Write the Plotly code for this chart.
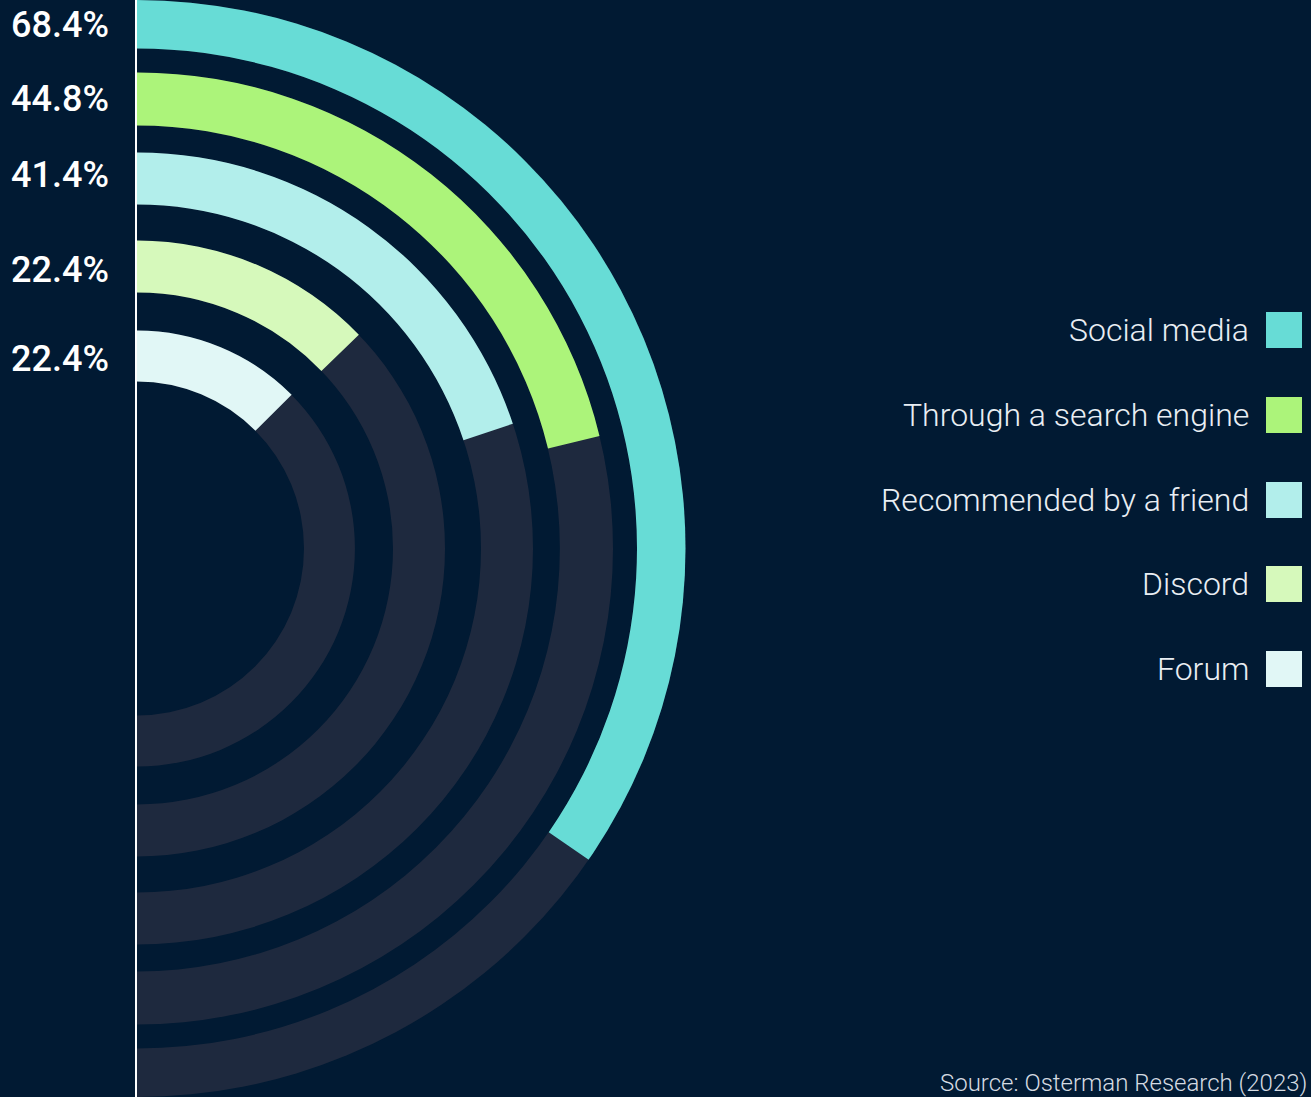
import plotly.graph_objects as go

# ---- data ----
categories = ["Social media", "Through a search engine", "Recommended by a friend", "Discord", "Forum"]
value_labels = ["68.4%", "44.8%", "41.4%", "22.4%", "22.4%"]
# extent of each coloured arc as drawn, in % of the half ring
arc_share = [69.2, 42.4, 39.8, 25.6, 25.1]
colors = ["#67dcd6", "#acf47a", "#b2eeeb", "#d6f9bb", "#e1f7f6"]
source_text = "Source: Osterman Research (2023)"

# ---- layout constants ----
W, H = 1311, 1097
BG = "#011a33"
TRACK = "#1e293e"
ring_inner = [500, 423, 344, 256, 167]
ring_outer = [552, 476, 396, 308, 218]
cx = 137
R = H / 2
label_y = [25, 99, 175, 270, 359]
leg_y = [330, 415, 500, 584, 669]

fig = go.Figure()
for i, cat in enumerate(categories):
    th = arc_share[i] * 180 / 100
    # grey track
    fig.add_trace(go.Barpolar(
        r=[ring_outer[i] - ring_inner[i]], base=[ring_inner[i]],
        theta=[90], width=[180],
        marker=dict(color=TRACK, line=dict(width=0)),
        showlegend=False, hoverinfo="skip"))
    # value arc
    fig.add_trace(go.Barpolar(
        r=[ring_outer[i] - ring_inner[i]], base=[ring_inner[i]],
        theta=[th / 2], width=[th],
        marker=dict(color=colors[i], line=dict(width=0)),
        name=cat, showlegend=False,
        hovertemplate=cat + ": " + value_labels[i] + "<extra></extra>"))

fig.update_layout(
    width=W, height=H, autosize=False,
    margin=dict(l=0, r=0, t=0, b=0, pad=0),
    paper_bgcolor=BG, plot_bgcolor=BG,
    polar=dict(
        domain=dict(x=[cx / W, (cx + R) / W], y=[0, 1]),
        sector=[-90, 90],
        bgcolor="rgba(0,0,0,0)",
        barmode="overlay",
        radialaxis=dict(range=[0, R], visible=False, showgrid=False, showline=False, showticklabels=False, ticks=""),
        angularaxis=dict(rotation=90, direction="clockwise", visible=False, showgrid=False,
                         showline=False, showticklabels=False, ticks=""),
    ),
)

# vertical white line
fig.add_shape(type="line", xref="paper", yref="paper", x0=136 / W, x1=136 / W, y0=0, y1=1,
              line=dict(color="#ffffff", width=2))

# percentage labels
for i, lab in enumerate(value_labels):
    fig.add_annotation(xref="paper", yref="paper", x=111 / W, y=1 - label_y[i] / H,
                       text=lab, showarrow=False, xanchor="right", yanchor="middle",
                       font=dict(family="Roboto", size=36, color="#ffffff", weight=500))

# legend (text + swatch)
for i, cat in enumerate(categories):
    y = 1 - leg_y[i] / H
    fig.add_annotation(xref="paper", yref="paper", x=1251 / W, y=y, text=cat, showarrow=False,
                       xanchor="right", yanchor="middle",
                       font=dict(family="Roboto", size=32, color="#e9eef3", weight=300))
    fig.add_shape(type="rect", xref="paper", yref="paper",
                  x0=1266 / W, x1=1302 / W, y0=y - 18 / H, y1=y + 18 / H,
                  fillcolor=colors[i], line=dict(width=0))

fig.add_annotation(xref="paper", yref="paper", x=1309 / W, y=1 - 1083 / H, text=source_text,
                   showarrow=False, xanchor="right", yanchor="middle",
                   font=dict(family="Roboto", size=24, color="#d5dbe2", weight=300))

fig.write_html("out.html")
